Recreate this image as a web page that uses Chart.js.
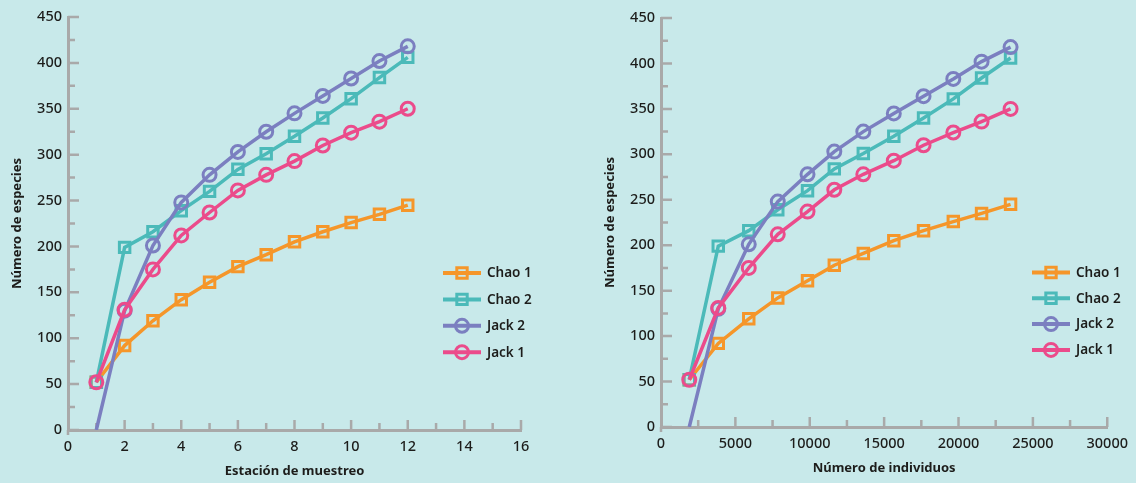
<!DOCTYPE html>
<html>
<head>
<meta charset="utf-8">
<script src="https://cdn.jsdelivr.net/npm/chart.js@4.4.0/dist/chart.umd.min.js"></script>
<style>
    html, body { margin: 0; padding: 0; background: #c8e9ea; width: 1136px; height: 483px; overflow: hidden }
    .box { position: absolute; top: 0; height: 483px }
    #leftBox { left: 0; width: 590px }
    #rightBox { left: 590px; width: 546px }
</style>
</head>
<body>
<div class="box" id="leftBox"><canvas id="leftChart"></canvas></div>
<div class="box" id="rightBox"><canvas id="rightChart"></canvas></div>
<script>
// species accumulation curves: by sampling station (left) and by number of individuals (right)

const stations = [1, 2, 3, 4, 5, 6, 7, 8, 9, 10, 11, 12]
const individuals = [1900, 3850, 5900, 7850, 9850, 11650, 13600, 15650, 17650, 19650, 21550, 23500]

const chao1 = [52, 92, 119, 142, 161, 178, 191, 205, 216, 226, 235, 245]
const chao2 = [52, 199, 216, 239, 260, 284, 301, 320, 340, 361, 384, 406]
const jack2 = [0, 130, 201, 248, 278, 303, 325, 345, 364, 383, 402, 418]
const jack1 = [52, 131, 175, 212, 237, 261, 278, 293, 310, 324, 336, 350]

const seriesNames = ['Chao 1', 'Chao 2', 'Jack 2', 'Jack 1']

const yTicks = [0, 50, 100, 150, 200, 250, 300, 350, 400, 450]
const stationTicks = [0, 2, 4, 6, 8, 10, 12, 14, 16]
const individualTicks = [0, 5000, 10000, 15000, 20000, 25000, 30000]

const yTitle = 'Número de especies'
const leftXTitle = 'Estación de muestreo'
const rightXTitle = 'Número de individuos'

const axisGray = '#a9a9a9'
const inkColor = '#1d1d1b'
const colors = { orange: '#f5962a', teal: '#4bbab9', purple: '#7b7fc0', pink: '#eb4b8b' }

Chart.defaults.font.family = '"Noto Sans", sans-serif'
Chart.defaults.color = inkColor

// minor tick marks sit halfway between the labelled ones
function withMinors(ticks) {
    const out = []
    ticks.forEach((v, i) => {
        out.push({ v, major: true })
        if (i < ticks.length - 1) out.push({ v: (v + ticks[i + 1]) / 2, major: false })
    })
    return out
}

// tick marks drawn inward from the axis lines
const innerTicks = {
    id: 'innerTicks',
    beforeDatasetsDraw(chart) {
        const { ctx, chartArea: a, scales: { x, y } } = chart
        ctx.save()
        ctx.strokeStyle = axisGray
        ctx.lineWidth = 2.5
        ctx.beginPath()
        withMinors(yTicks).forEach(t => {
            const py = y.getPixelForValue(t.v)
            ctx.moveTo(a.left, py); ctx.lineTo(a.left + (t.major ? 11 : 7), py)
        })
        withMinors(chart.options.xTickList).forEach(t => {
            if (t.v === 0) return
            const px = x.getPixelForValue(t.v)
            ctx.moveTo(px, a.bottom); ctx.lineTo(px, a.bottom - (t.major ? 10 : 7))
        })
        // y axis pokes a little below the x axis
        ctx.moveTo(a.left, a.bottom); ctx.lineTo(a.left, a.bottom + 5)
        ctx.stroke()
        ctx.restore()
    }
}

function drawMarker(ctx, style, cx, cy, color) {
    ctx.strokeStyle = color
    ctx.lineWidth = 3
    ctx.beginPath()
    if (style === 'rect') ctx.rect(cx - 5.2, cy - 5.2, 10.4, 10.4)
    else ctx.arc(cx, cy, 6.5, 0, Math.PI * 2)
    ctx.stroke()
}

// legend placed inside the plot, right side
const sideLegend = {
    id: 'sideLegend',
    afterDraw(chart, args, opts) {
        const ctx = chart.ctx
        ctx.save()
        chart.data.datasets.forEach((ds, i) => {
            const cy = opts.y + i * opts.gap
            ctx.strokeStyle = ds.borderColor
            ctx.lineWidth = 4
            ctx.beginPath()
            ctx.moveTo(opts.x - 19, cy); ctx.lineTo(opts.x + 19, cy)
            ctx.stroke()
            drawMarker(ctx, ds.pointStyle, opts.x, cy, ds.borderColor)
            ctx.fillStyle = inkColor
            ctx.font = '600 13.5px "Noto Sans", sans-serif'
            ctx.textBaseline = 'middle'
            ctx.fillText(ds.label, opts.x + 25, cy + 0.5)
        })
        ctx.restore()
    }
}

function buildDatasets(xs) {
    const pts = (vals) => xs.map((x, i) => ({ x, y: vals[i] }))
    const base = { borderWidth: 3.5, pointBorderWidth: 3, pointBackgroundColor: 'rgba(0,0,0,0)', tension: 0 }
    return [
        { ...base, label: seriesNames[0], data: pts(chao1), borderColor: colors.orange, pointBorderColor: colors.orange, pointStyle: 'rect', pointRadius: 7.4, order: 3 },
        { ...base, label: seriesNames[1], data: pts(chao2), borderColor: colors.teal, pointBorderColor: colors.teal, pointStyle: 'rect', pointRadius: 7.4, order: 2 },
        { ...base, label: seriesNames[2], data: pts(jack2), borderColor: colors.purple, pointBorderColor: colors.purple, pointStyle: 'circle', pointRadius: jack2.map((v, i) => i === 0 ? 0 : 6.5), order: 1 },
        { ...base, label: seriesNames[3], data: pts(jack1), borderColor: colors.pink, pointBorderColor: colors.pink, pointStyle: 'circle', pointRadius: 6.5, order: 0 },
    ]
}

function makeChart(canvasId, xs, xTickList, xMax, xTitle, geo) {
    return new Chart(document.getElementById(canvasId), {
        type: 'line',
        data: { datasets: buildDatasets(xs) },
        plugins: [innerTicks, sideLegend],
        options: {
            xTickList,
            responsive: true,
            maintainAspectRatio: false,
            animation: false,
            layout: { padding: { left: 0, right: geo.padRight, top: geo.top, bottom: 0 } },
            plugins: {
                legend: { display: false },
                tooltip: { enabled: false },
                sideLegend: geo.legend
            },
            scales: {
                x: {
                    type: 'linear',
                    min: 0, max: xMax,
                    afterBuildTicks: s => { s.ticks = xTickList.map(v => ({ value: v })) },
                    afterFit: s => { s.height = geo.xHeight },
                    grid: { display: false, drawTicks: false },
                    border: { display: true, color: axisGray, width: 3 },
                    ticks: { padding: 8, font: { size: 14.5, weight: 500 }, color: inkColor, maxRotation: 0, callback: v => String(v) },
                    title: { display: true, text: xTitle, font: { size: 13, weight: 'bold' }, color: inkColor, padding: { top: 0, bottom: geo.xTitlePad } }
                },
                y: {
                    min: 0, max: 450,
                    afterBuildTicks: s => { s.ticks = yTicks.map(v => ({ value: v })) },
                    afterFit: s => { s.width = geo.yWidth },
                    grid: { display: false, drawTicks: false },
                    border: { display: true, color: axisGray, width: 3 },
                    ticks: { padding: 6, font: { size: 14.5, weight: 500 }, color: inkColor },
                    title: { display: true, text: yTitle, font: { size: 13, weight: 'bold' }, color: inkColor, padding: { top: geo.yTitlePad, bottom: 0 } }
                }
            }
        }
    })
}

makeChart('leftChart', stations, stationTicks, 16, leftXTitle, {
    top: 17, padRight: 69, yWidth: 68, xHeight: 53, xTitlePad: 4, yTitlePad: 9,
    legend: { x: 462, y: 273, gap: 26.4 }
})
makeChart('rightChart', individuals, individualTicks, 30000, rightXTitle, {
    top: 18, padRight: 26, yWidth: 71, xHeight: 56, xTitlePad: 7, yTitlePad: 12,
    legend: { x: 461, y: 272.5, gap: 25.8 }
})
</script>
</body>
</html>
